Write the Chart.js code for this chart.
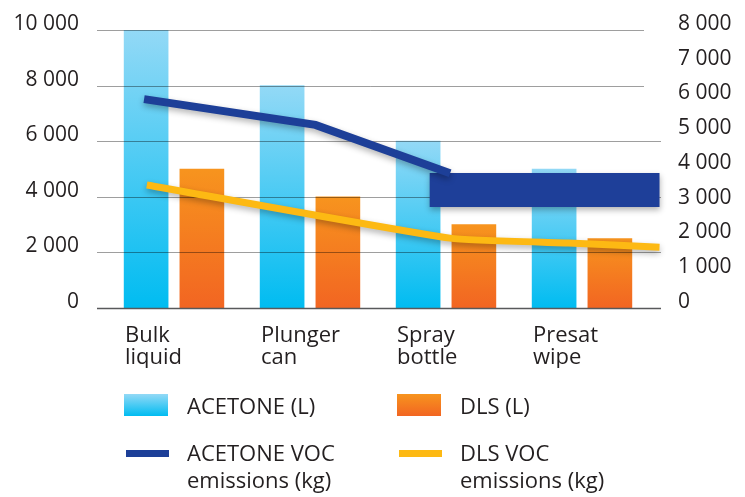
<!DOCTYPE html>
<html>
<head>
<meta charset="utf-8">
<script src="https://cdn.jsdelivr.net/npm/chart.js@4.4.1/dist/chart.umd.min.js"></script>
<style>
  body { margin: 0; background: #fff; }
  #wrap { position: relative; width: 745px; height: 497px; }
  #legend { position: absolute; left: 0; top: 0; width: 745px; height: 497px; pointer-events: none;
    font-family: "Open Sans", sans-serif; font-size: 22px; line-height: 27px; color: #231f20; }
  .item { position: absolute; white-space: pre-line; }
  .sw { position: absolute; }
</style>
</head>
<body>
<div id="wrap">
  <canvas id="myChart"></canvas>
  <div id="legend"></div>
</div>
<script>
var categories = [['Bulk', 'liquid'], ['Plunger', 'can'], ['Spray', 'bottle'], ['Presat', 'wipe']];
var acetoneL = [10000, 8000, 6000, 5000];
var dlsL = [5000, 4000, 3000, 2500];

// lines sit on a hidden linear axis (-0.5 .. 3.5 = the category band)
var acetoneVocPos = [-0.22, 1.04, 2.03];
var acetoneVoc = [6010, 5270, 3880];
var dlsVocPos = [-0.2, 2.03, 2.9, 3.57];
var dlsVoc = [3540, 2010, 1870, 1750];
var bandPos = [1.88, 3.57];
var bandMid = [3395, 3395];

var leftMax = 10000, leftStep = 2000;
var rightMax = 8000, rightStep = 1000;

var txt = '#231f20';
var font = 'Open Sans';
var barShift = 0.205; // bar pair offset inside a category

function fmt(v) {
  return String(v).replace(/\B(?=(\d{3})+(?!\d))/g, ' ');
}
function pts(xs, ys) {
  return xs.map(function (x, i) { return {x: x, y: ys[i]}; });
}
function barPts(vals, shift) {
  return vals.map(function (v, i) { return {x: i + shift, y: v}; });
}
function grad(c1, c2) {
  return function (c) {
    var chart = c.chart;
    if (!chart.chartArea || !c.parsed) return c2;
    var y = chart.scales.y;
    var g = chart.ctx.createLinearGradient(0, y.getPixelForValue(c.parsed.y), 0, y.getPixelForValue(0));
    g.addColorStop(0, c1);
    g.addColorStop(1, c2);
    return g;
  };
}
function noPad(s) {
  s.paddingTop = 0;
  s.paddingBottom = 0;
}

var barsDone = 0;
var gridPlugin = {
  id: 'grid',
  beforeDatasetsDraw: function () { barsDone = 0; },
  afterDatasetDraw: function (chart, args) {
    if (args.meta.type !== 'bar') return;
    barsDone++;
    if (barsDone !== 2) return;
    var ctx = chart.ctx, a = chart.chartArea, y = chart.scales.y;
    ctx.save();
    for (var v = leftStep; v <= leftMax; v += leftStep) {
      var py = Math.round(y.getPixelForValue(v)) + 0.5;
      ctx.strokeStyle = 'rgba(0,0,0,0.38)';
      ctx.lineWidth = 1;
      ctx.beginPath();
      ctx.moveTo(a.left - 9, py);
      ctx.lineTo(a.right + (v > 6000 ? -6 : 11), py);
      ctx.stroke();
    }
    var p0 = y.getPixelForValue(0) + 0.5;
    ctx.strokeStyle = '#58595b';
    ctx.lineWidth = 1.5;
    ctx.beginPath();
    ctx.moveTo(a.left - 9, p0);
    ctx.lineTo(a.right + 11, p0);
    ctx.stroke();
    ctx.restore();
  }
};

var shadowPlugin = {
  id: 'shadow',
  beforeDatasetDraw: function (chart, args) {
    if (args.meta.type !== 'line') return;
    chart.ctx.save();
    chart.ctx.shadowColor = 'rgba(0,0,0,0.3)';
    chart.ctx.shadowBlur = 6;
    chart.ctx.shadowOffsetY = 3;
  },
  afterDatasetDraw: function (chart, args) {
    if (args.meta.type !== 'line') return;
    chart.ctx.restore();
  }
};

var barOpts = {
  xAxisID: 'xl',
  yAxisID: 'y',
  grouped: false,
  categoryPercentage: 1,
  barPercentage: 1,
  maxBarThickness: 44,
  order: 2
};

var config = {
  type: 'bar',
  data: {
    labels: categories,
    datasets: [Object.assign({
      label: 'ACETONE (L)',
      data: barPts(acetoneL, -barShift),
      backgroundColor: grad('#93d9f6', '#00bcf1'),
      legendColor: ['#93d9f6', '#00bcf1']
    }, barOpts), Object.assign({
      label: 'DLS (L)',
      data: barPts(dlsL, barShift),
      backgroundColor: grad('#f7941e', '#f26522'),
      legendColor: ['#f7941e', '#f26522']
    }, barOpts), {
      type: 'line',
      label: 'ACETONE VOC\nemissions (kg)',
      data: pts(acetoneVocPos, acetoneVoc),
      xAxisID: 'xl',
      yAxisID: 'y2',
      borderColor: '#1d3f98',
      borderWidth: 8,
      pointRadius: 0,
      clip: false,
      order: 1
    }, {
      type: 'line',
      label: 'band',
      data: pts(bandPos, bandMid),
      xAxisID: 'xl',
      yAxisID: 'y2',
      borderColor: '#1e3f99',
      borderWidth: 34,
      borderCapStyle: 'butt',
      pointRadius: 0,
      clip: false,
      order: 1
    }, {
      type: 'line',
      label: 'DLS VOC\nemissions (kg)',
      data: pts(dlsVocPos, dlsVoc),
      xAxisID: 'xl',
      yAxisID: 'y2',
      borderColor: '#fdb913',
      borderWidth: 7,
      tension: 0.15,
      pointRadius: 0,
      clip: false,
      order: 0
    }]
  },
  options: {
    responsive: true,
    maintainAspectRatio: false,
    animation: false,
    layout: { padding: { top: 30, bottom: 129, left: 0, right: 0 } },
    plugins: {
      legend: { display: false },
      tooltip: { enabled: false }
    },
    scales: {
      x: {
        type: 'category',
        offset: true,
        grid: { display: false, drawTicks: false },
        border: { display: false },
        ticks: {
          color: txt,
          align: 'start',
          labelOffset: -49,
          padding: 17,
          font: { family: font, size: 22, lineHeight: 1.0 }
        },
        afterFit: function (s) { s.height = 60; }
      },
      xl: {
        type: 'linear',
        display: false,
        offset: false,
        min: -0.5,
        max: 3.5
      },
      y: {
        position: 'left',
        min: 0,
        max: leftMax,
        grid: { display: false, drawTicks: false },
        border: { display: false },
        ticks: {
          stepSize: leftStep,
          color: txt,
          padding: 27,
          labelOffset: -6,
          font: { family: font, size: 21 },
          callback: fmt
        },
        afterFit: function (s) { s.width = 106; noPad(s); }
      },
      y2: {
        position: 'right',
        min: 0,
        max: rightMax,
        grid: { display: false, drawTicks: false },
        border: { display: false },
        ticks: {
          stepSize: rightStep,
          color: txt,
          padding: 28,
          labelOffset: -6,
          font: { family: font, size: 21 },
          callback: fmt
        },
        afterFit: function (s) { s.width = 95; noPad(s); }
      }
    }
  },
  plugins: [gridPlugin, shadowPlugin]
};

var chart = new Chart(document.getElementById('myChart'), config);

// html legend, two columns
var legendSlots = [
  {ds: 0, left: 124, top: 392, box: true},
  {ds: 1, left: 397, top: 392, box: true},
  {ds: 2, left: 124, top: 439, box: false},
  {ds: 4, left: 397, top: 439, box: false}
];
var leg = document.getElementById('legend');
legendSlots.forEach(function (s) {
  var d = chart.data.datasets[s.ds];
  var sw = document.createElement('div');
  sw.className = 'sw';
  if (s.box) {
    sw.style.left = s.left + 'px';
    sw.style.top = (s.top + 2) + 'px';
    sw.style.width = '44px';
    sw.style.height = '22px';
    sw.style.background = 'linear-gradient(' + d.legendColor[0] + ',' + d.legendColor[1] + ')';
  } else {
    sw.style.left = (s.left + 2) + 'px';
    sw.style.top = (s.top + 11) + 'px';
    sw.style.width = '43px';
    sw.style.height = '7px';
    sw.style.background = d.borderColor;
  }
  leg.appendChild(sw);
  var t = document.createElement('div');
  t.className = 'item';
  t.style.left = (s.left + 63) + 'px';
  t.style.top = s.top + 'px';
  t.textContent = d.label;
  leg.appendChild(t);
});
</script>
</body>
</html>
